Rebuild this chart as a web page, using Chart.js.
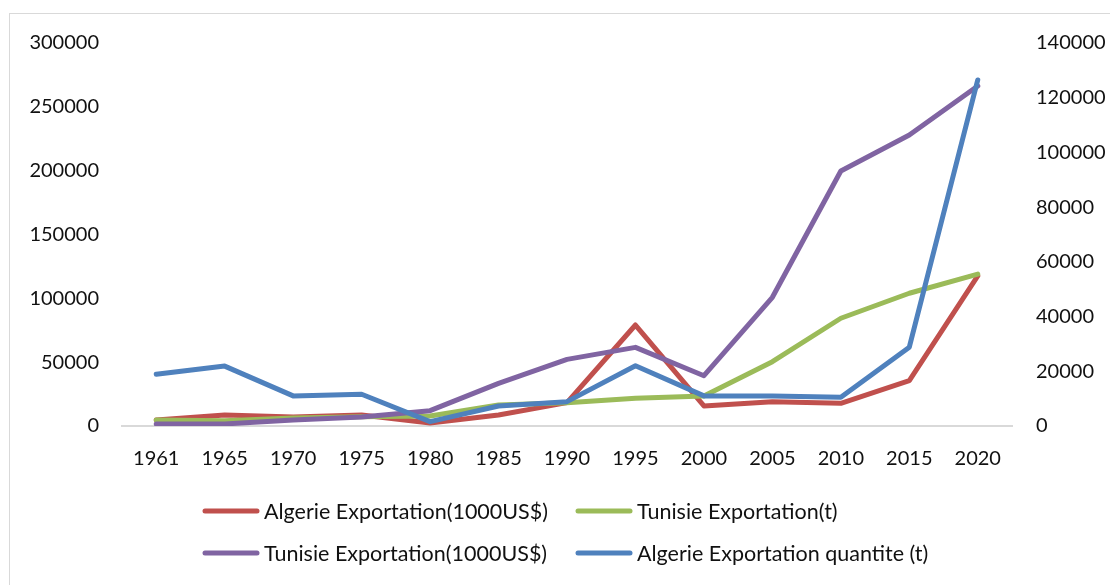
<!DOCTYPE html>
<html>
<head>
<meta charset="utf-8">
<script src="https://cdn.jsdelivr.net/npm/chart.js@4"></script>
<style>
  body { margin: 0; background: #fff; }
</style>
</head>
<body>
<canvas id="myChart" width="1110" height="585"></canvas>
<script>
const years = ['1961', '1965', '1970', '1975', '1980', '1985', '1990', '1995', '2000', '2005', '2010', '2015', '2020'];

// left axis (300000)
const algerieUsd = [4700, 8600, 7000, 8600, 2300, 8600, 18300, 79100, 15700, 19000, 17800, 35500, 117500];
const tunisieT = [4700, 4200, 6300, 7300, 7800, 16400, 18300, 21700, 23500, 50400, 84400, 104000, 119000];
const tunisieUsd = [1600, 1600, 4700, 7000, 12000, 33400, 52200, 61600, 39400, 100800, 199700, 228000, 266300];
// right axis (140000)
const algerieT = [18900, 21900, 11000, 11600, 1600, 7300, 8900, 22000, 11000, 11000, 10500, 28800, 126500];

const leftTicks = [0, 50000, 100000, 150000, 200000, 250000, 300000];
const rightTicks = [0, 20000, 40000, 60000, 80000, 100000, 120000, 140000];

const FONT = 'Lato, "Open Sans", sans-serif';

// Excel-like legend: two columns, two rows
const gridLegend = {
  id: 'gridLegend',
  beforeDraw(chart) {
    const c = chart.ctx;
    c.save();
    c.strokeStyle = '#d9d9d9';
    c.lineWidth = 1;
    c.strokeRect(9.5, 13.5, 1200, 700);
    c.restore();
  },
  afterDraw(chart) {
    const c = chart.ctx;
    const cols = [205, 578];
    const rows = [511, 553];
    c.save();
    c.font = '21.5px ' + FONT;
    c.textBaseline = 'middle';
    c.fillStyle = '#111';
    chart.data.datasets.forEach(function (ds, i) {
      const x = cols[i % 2];
      const y = rows[Math.floor(i / 2)];
      c.strokeStyle = ds.borderColor;
      c.lineWidth = 5;
      c.lineCap = 'round';
      c.beginPath();
      c.moveTo(x, y);
      c.lineTo(x + 52, y);
      c.stroke();
      c.fillText(ds.label, x + 59, y + 1);
    });
    c.restore();
  }
};

const ctx = document.getElementById('myChart');

new Chart(ctx, {
  type: 'line',
  data: {
    labels: years,
    datasets: [
      { label: 'Algerie Exportation(1000US$)', data: algerieUsd, borderColor: '#C0504D', yAxisID: 'y', order: 4 },
      { label: 'Tunisie Exportation(t)', data: tunisieT, borderColor: '#9BBB59', yAxisID: 'y', order: 3 },
      { label: 'Tunisie Exportation(1000US$)', data: tunisieUsd, borderColor: '#8064A2', yAxisID: 'y', order: 2 },
      { label: 'Algerie Exportation quantite (t)', data: algerieT, borderColor: '#4F81BD', yAxisID: 'y1', order: 1 }
    ]
  },
  options: {
    responsive: false,
    animation: false,
    layout: { padding: { top: 43, left: 0, right: 0, bottom: 99 } },
    elements: {
      line: { borderWidth: 5, tension: 0, borderCapStyle: 'round', borderJoinStyle: 'round', fill: false },
      point: { radius: 0, hoverRadius: 0 }
    },
    plugins: {
      legend: { display: false },
      tooltip: { enabled: false }
    },
    scales: {
      x: {
        offset: true,
        grid: { display: false, drawTicks: false },
        border: { display: true, color: '#d9d9d9', width: 2 },
        ticks: { font: { family: FONT, size: 20 }, color: '#111', padding: 21, maxRotation: 0 },
        afterFit(s) { s.height = 60; }
      },
      y: {
        position: 'left',
        min: 0,
        max: 300000,
        afterBuildTicks(s) { s.ticks = leftTicks.map(v => ({ value: v })); },
        grid: { display: false, drawTicks: false },
        border: { display: false },
        ticks: { font: { family: FONT, size: 20 }, color: '#111', padding: 23, callback: v => String(v) },
        afterFit(s) { s.width = 122; }
      },
      y1: {
        position: 'right',
        min: 0,
        max: 140000,
        afterBuildTicks(s) { s.ticks = rightTicks.map(v => ({ value: v })); },
        grid: { display: false, drawTicks: false },
        border: { display: false },
        ticks: { font: { family: FONT, size: 20 }, color: '#111', padding: 24, callback: v => String(v) },
        afterFit(s) { s.width = 98; }
      }
    }
  },
  plugins: [gridLegend]
});
</script>
</body>
</html>
